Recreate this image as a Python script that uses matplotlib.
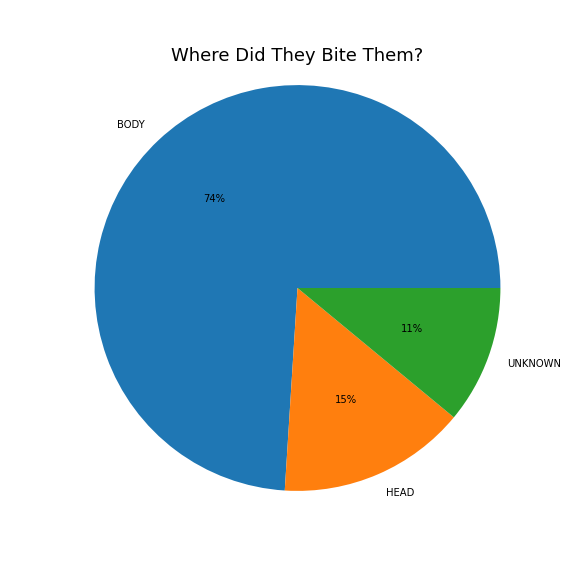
import matplotlib
matplotlib.use("Agg")
import matplotlib.pyplot as plt

labels = ["BODY", "HEAD", "UNKNOWN"]
values = [74, 15, 11]

fig = plt.figure(figsize=(8, 8), dpi=72)
fig.subplots_adjust(left=0.129, right=0.904, bottom=0.116, top=0.884)
plt.pie(values, labels=labels, autopct="%1.0f%%")
plt.title("Where Did They Bite Them?", fontsize=18)
plt.axis("equal")
fig.savefig("out.png", dpi=72)
